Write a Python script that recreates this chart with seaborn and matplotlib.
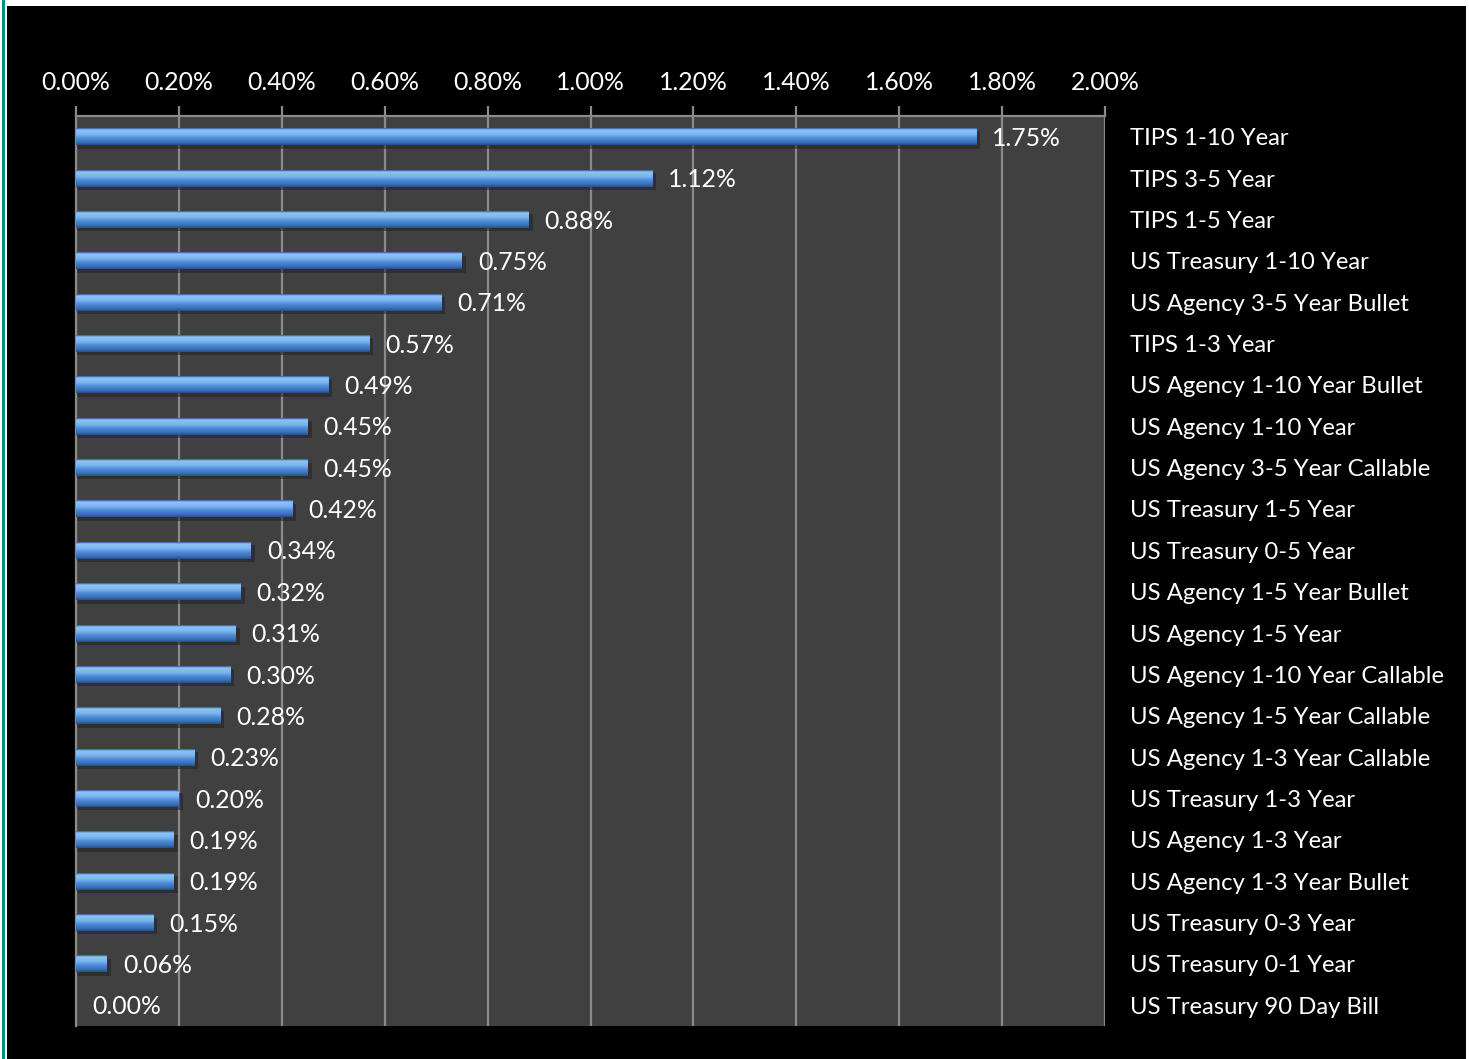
import numpy as np
import pandas as pd
import matplotlib
matplotlib.use("Agg")
import matplotlib.pyplot as plt
import seaborn as sns
from matplotlib.patches import Rectangle
from matplotlib.colors import LinearSegmentedColormap

categories = [
    "TIPS 1-10 Year", "TIPS 3-5 Year", "TIPS 1-5 Year", "US Treasury 1-10 Year",
    "US Agency 3-5 Year Bullet", "TIPS 1-3 Year", "US Agency 1-10 Year Bullet",
    "US Agency 1-10 Year", "US Agency 3-5 Year Callable", "US Treasury 1-5 Year",
    "US Treasury 0-5 Year", "US Agency 1-5 Year Bullet", "US Agency 1-5 Year",
    "US Agency 1-10 Year Callable", "US Agency 1-5 Year Callable",
    "US Agency 1-3 Year Callable", "US Treasury 1-3 Year", "US Agency 1-3 Year",
    "US Agency 1-3 Year Bullet", "US Treasury 0-3 Year", "US Treasury 0-1 Year",
    "US Treasury 90 Day Bill",
]
values = [1.75, 1.12, 0.88, 0.75, 0.71, 0.57, 0.49, 0.45, 0.45, 0.42, 0.34,
          0.32, 0.31, 0.30, 0.28, 0.23, 0.20, 0.19, 0.19, 0.15, 0.06, 0.00]
xticks = [0.0, 0.2, 0.4, 0.6, 0.8, 1.0, 1.2, 1.4, 1.6, 1.8, 2.0]

df = pd.DataFrame({"cat": categories, "val": values})

sns.set_theme(style="white")
plt.rcParams["font.family"] = ["Lato", "DejaVu Sans"]

W, H = 1469, 1059
fig = plt.figure(figsize=(W / 100, H / 100), dpi=100, facecolor="white")

# black background panel and teal border line
fig.add_artist(Rectangle((7 / W, 0), (1466 - 7) / W, 1 - 6 / H,
                         transform=fig.transFigure, facecolor="black",
                         edgecolor="none", zorder=-10))
fig.add_artist(Rectangle((2 / W, 0), 3 / W, 1,
                         transform=fig.transFigure, facecolor="#0b8a84",
                         edgecolor="none", zorder=-10))

ax = fig.add_axes([76 / W, 1 - 1026 / H, (1105 - 76) / W, (1026 - 116) / H])
ax.set_zorder(1)
ax.set_facecolor("#404040")

sns.barplot(data=df, x="val", y="cat", orient="h", color="#4f8ad6",
            width=0.41, ax=ax, zorder=3, saturation=1, linewidth=0,
            edgecolor="none")

# gradient fill for 3D look
cmap = LinearSegmentedColormap.from_list(
    "bar3d", [(0.0, "#2b5b99"), (0.10, "#8ec3f5"), (0.38, "#7ab4ef"),
              (0.6, "#4f8ad6"), (0.85, "#3a6fb6"), (1.0, "#27508a")])
grad = np.linspace(0, 1, 64).reshape(-1, 1)
for p in list(ax.patches):
    x0, y0 = p.get_x(), p.get_y()
    w, h = p.get_width(), p.get_height()
    p.set_edgecolor("none")
    p.set_linewidth(0)
    if w <= 0:
        p.set_visible(False)
        continue
    ax.add_patch(Rectangle((x0, y0 + h * 0.2), w + 0.008, h * 1.0,
                           facecolor="#222222", alpha=0.55, edgecolor="none",
                           zorder=2.5))
    im = ax.imshow(grad, aspect="auto", cmap=cmap,
                   extent=[x0, x0 + w, y0 + h, y0], zorder=3.5,
                   interpolation="bilinear")
    im.set_clip_path(p)
ax.set_xlim(0, 2.0)
ax.set_ylim(len(categories) - 0.5, -0.5)

# value labels
for i, v in enumerate(values):
    ax.text(v + 0.031, i + 0.04, f"{v:.2f}%", color="white", fontsize=17.8,
            va="center", ha="left", zorder=5)

ax.set_xticks(xticks)
ax.set_xticklabels([f"{t:.2f}%" for t in xticks])
ax.xaxis.grid(True, color="#8a8a8a", linewidth=1.6, zorder=1)
ax.set_axisbelow(True)
ax.xaxis.tick_top()
ax.tick_params(axis="x", colors="#8a8a8a", labelcolor="white", labelsize=17.8,
               length=7, width=1.6, pad=9, direction="out", top=True, bottom=False)
ax.yaxis.tick_right()
ax.tick_params(axis="y", length=0, labelcolor="white", labelsize=17.2, pad=18)
ax.set_xlabel("")
ax.set_ylabel("")
for s in ["bottom", "right"]:
    ax.spines[s].set_visible(False)
for s in ["top", "left"]:
    ax.spines[s].set_visible(True)
    ax.spines[s].set_color("#8a8a8a")
    ax.spines[s].set_linewidth(1.6)

fig.savefig("out.png", dpi=100, facecolor="white")
